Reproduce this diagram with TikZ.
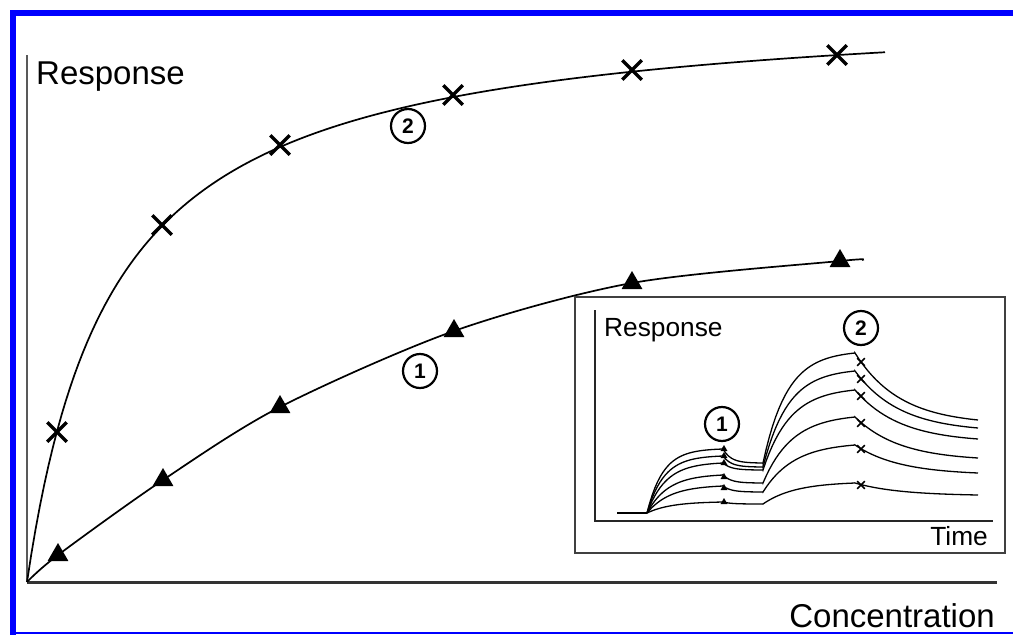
\documentclass[tikz,border=0pt]{standalone}
\usepackage{fontspec}
\setmainfont{Liberation Sans}
\usetikzlibrary{shapes.geometric,shapes.misc}

\tikzset{
  xmark/.style={cross out,draw,line width=3.5pt,minimum size=16pt,inner sep=0pt},
  tmark/.style={regular polygon,regular polygon sides=3,fill,inner sep=0pt,minimum size=24pt},
  smallx/.style={cross out,draw,line width=1.6pt,minimum size=6pt,inner sep=0pt},
  smallt/.style={regular polygon,regular polygon sides=3,fill,inner sep=0pt,minimum size=8pt},
  numcirc/.style={circle,draw,line width=2.2pt,minimum size=34pt,inner sep=0pt,font=\fontsize{21}{21}\selectfont\bfseries},
  curve/.style={line width=1.7pt},
  sens/.style={line width=1.3pt},
  axlabel/.style={inner sep=0pt,font=\fontsize{33}{33}\selectfont},
  inlabel/.style={inner sep=0pt,font=\fontsize{26.3}{26.3}\selectfont}
}

\begin{document}
\begin{tikzpicture}[x=1pt,y=-1pt]
  \useasboundingbox (0,0) rectangle (1013,635);
  % blue frame
  \draw[blue,line width=6pt] (13,635) -- (13,13) -- (1013,13);
  \draw[blue,line width=1.5pt] (13,633) -- (1013,633);

  % main axes
  \coordinate (O) at (27,582);
  \coordinate (ytop) at (27,55);
  \coordinate (xend) at (997,582);
  \draw[black!65,line width=1.5pt] (O) -- (ytop);
  \draw[black!80,line width=3pt] (O) -- (xend);
  \node[axlabel,anchor=base west] (resp) at (36,84) {Response};
  \node[axlabel,anchor=base east] (conc) at (995,627) {Concentration};

  % binding curves
  \draw[curve] plot[domain=0:858,samples=200] ({27+\x},{582-582.9*(\x/(86.06+\x))});
  \draw[curve] plot[smooth] coordinates {(27,582) (58,555) (163,480) (280,407) (454,331) (632,283) (840,261) (862,260)};
  \foreach \px/\py [count=\i] in {57/432,162/225,280/145,453/95,632/70,837/55}
    \node[xmark] (c\i) at (\px,\py) {};
  \foreach \px/\py [count=\i] in {58/555,163/480,280/407,454/331,632/283,840/261}
    \node[tmark] (t\i) at (\px,\py) {};
  \node[numcirc] (n2) at (408,126) {2};
  \node[numcirc] (n1) at (420,371) {1};

  % inset
  \draw[black!75,line width=1.5pt] (575,297) rectangle (1005,553);
  \coordinate (io) at (595,521);
  \coordinate (iytop) at (595,310);
  \coordinate (ixend) at (993,521);
  \draw[black!85,line width=1.5pt] (iytop) -- (io) -- (ixend);
  \node[inlabel,anchor=base west] (iresp) at (604,336) {Response};
  \node[inlabel,anchor=base east] (itime) at (988,545) {Time};
  \node[numcirc] (i2) at (861,328) {2};
  \node[numcirc] (i1) at (722,424) {1};

  % sensorgrams
  \draw[line width=2.5pt] (617,513) -- (647,513);
  \foreach \pa/\da/\pb/\eb/\ta in {449/463/353/420/16,456/467/371/428/17,463/470/390/439/19,475/483/417/458/21,486/492/445/473/23,502/504/483/495/24}
    \draw[sens] (647,513)
      -- plot[domain=0:76,samples=30] ({647+\x},{513+(\pa-513)*(1-exp(-\x/\ta))/(1-exp(-76/\ta))})
      -- plot[domain=0:40,samples=15] ({723+\x},{\pa+(\da-\pa)*(1-exp(-\x/8))/(1-exp(-5))})
      -- plot[domain=0:92,samples=30] ({763+\x},{\da+(\pb-\da)*(1-exp(-\x/(\ta+8)))/(1-exp(-92/(\ta+8)))})
      -- plot[domain=0:123,samples=30] ({855+\x},{\pb+(\eb-\pb)*(1-exp(-\x/45))/(1-exp(-123/45))});
  \foreach \py [count=\i] in {449,456,463,477,488,502}
    \node[smallt] (it\i) at (724,\py) {};
  \foreach \py [count=\i] in {362,379,396,423,449,485}
    \node[smallx] (ix\i) at (861,\py) {};
\end{tikzpicture}
\end{document}
